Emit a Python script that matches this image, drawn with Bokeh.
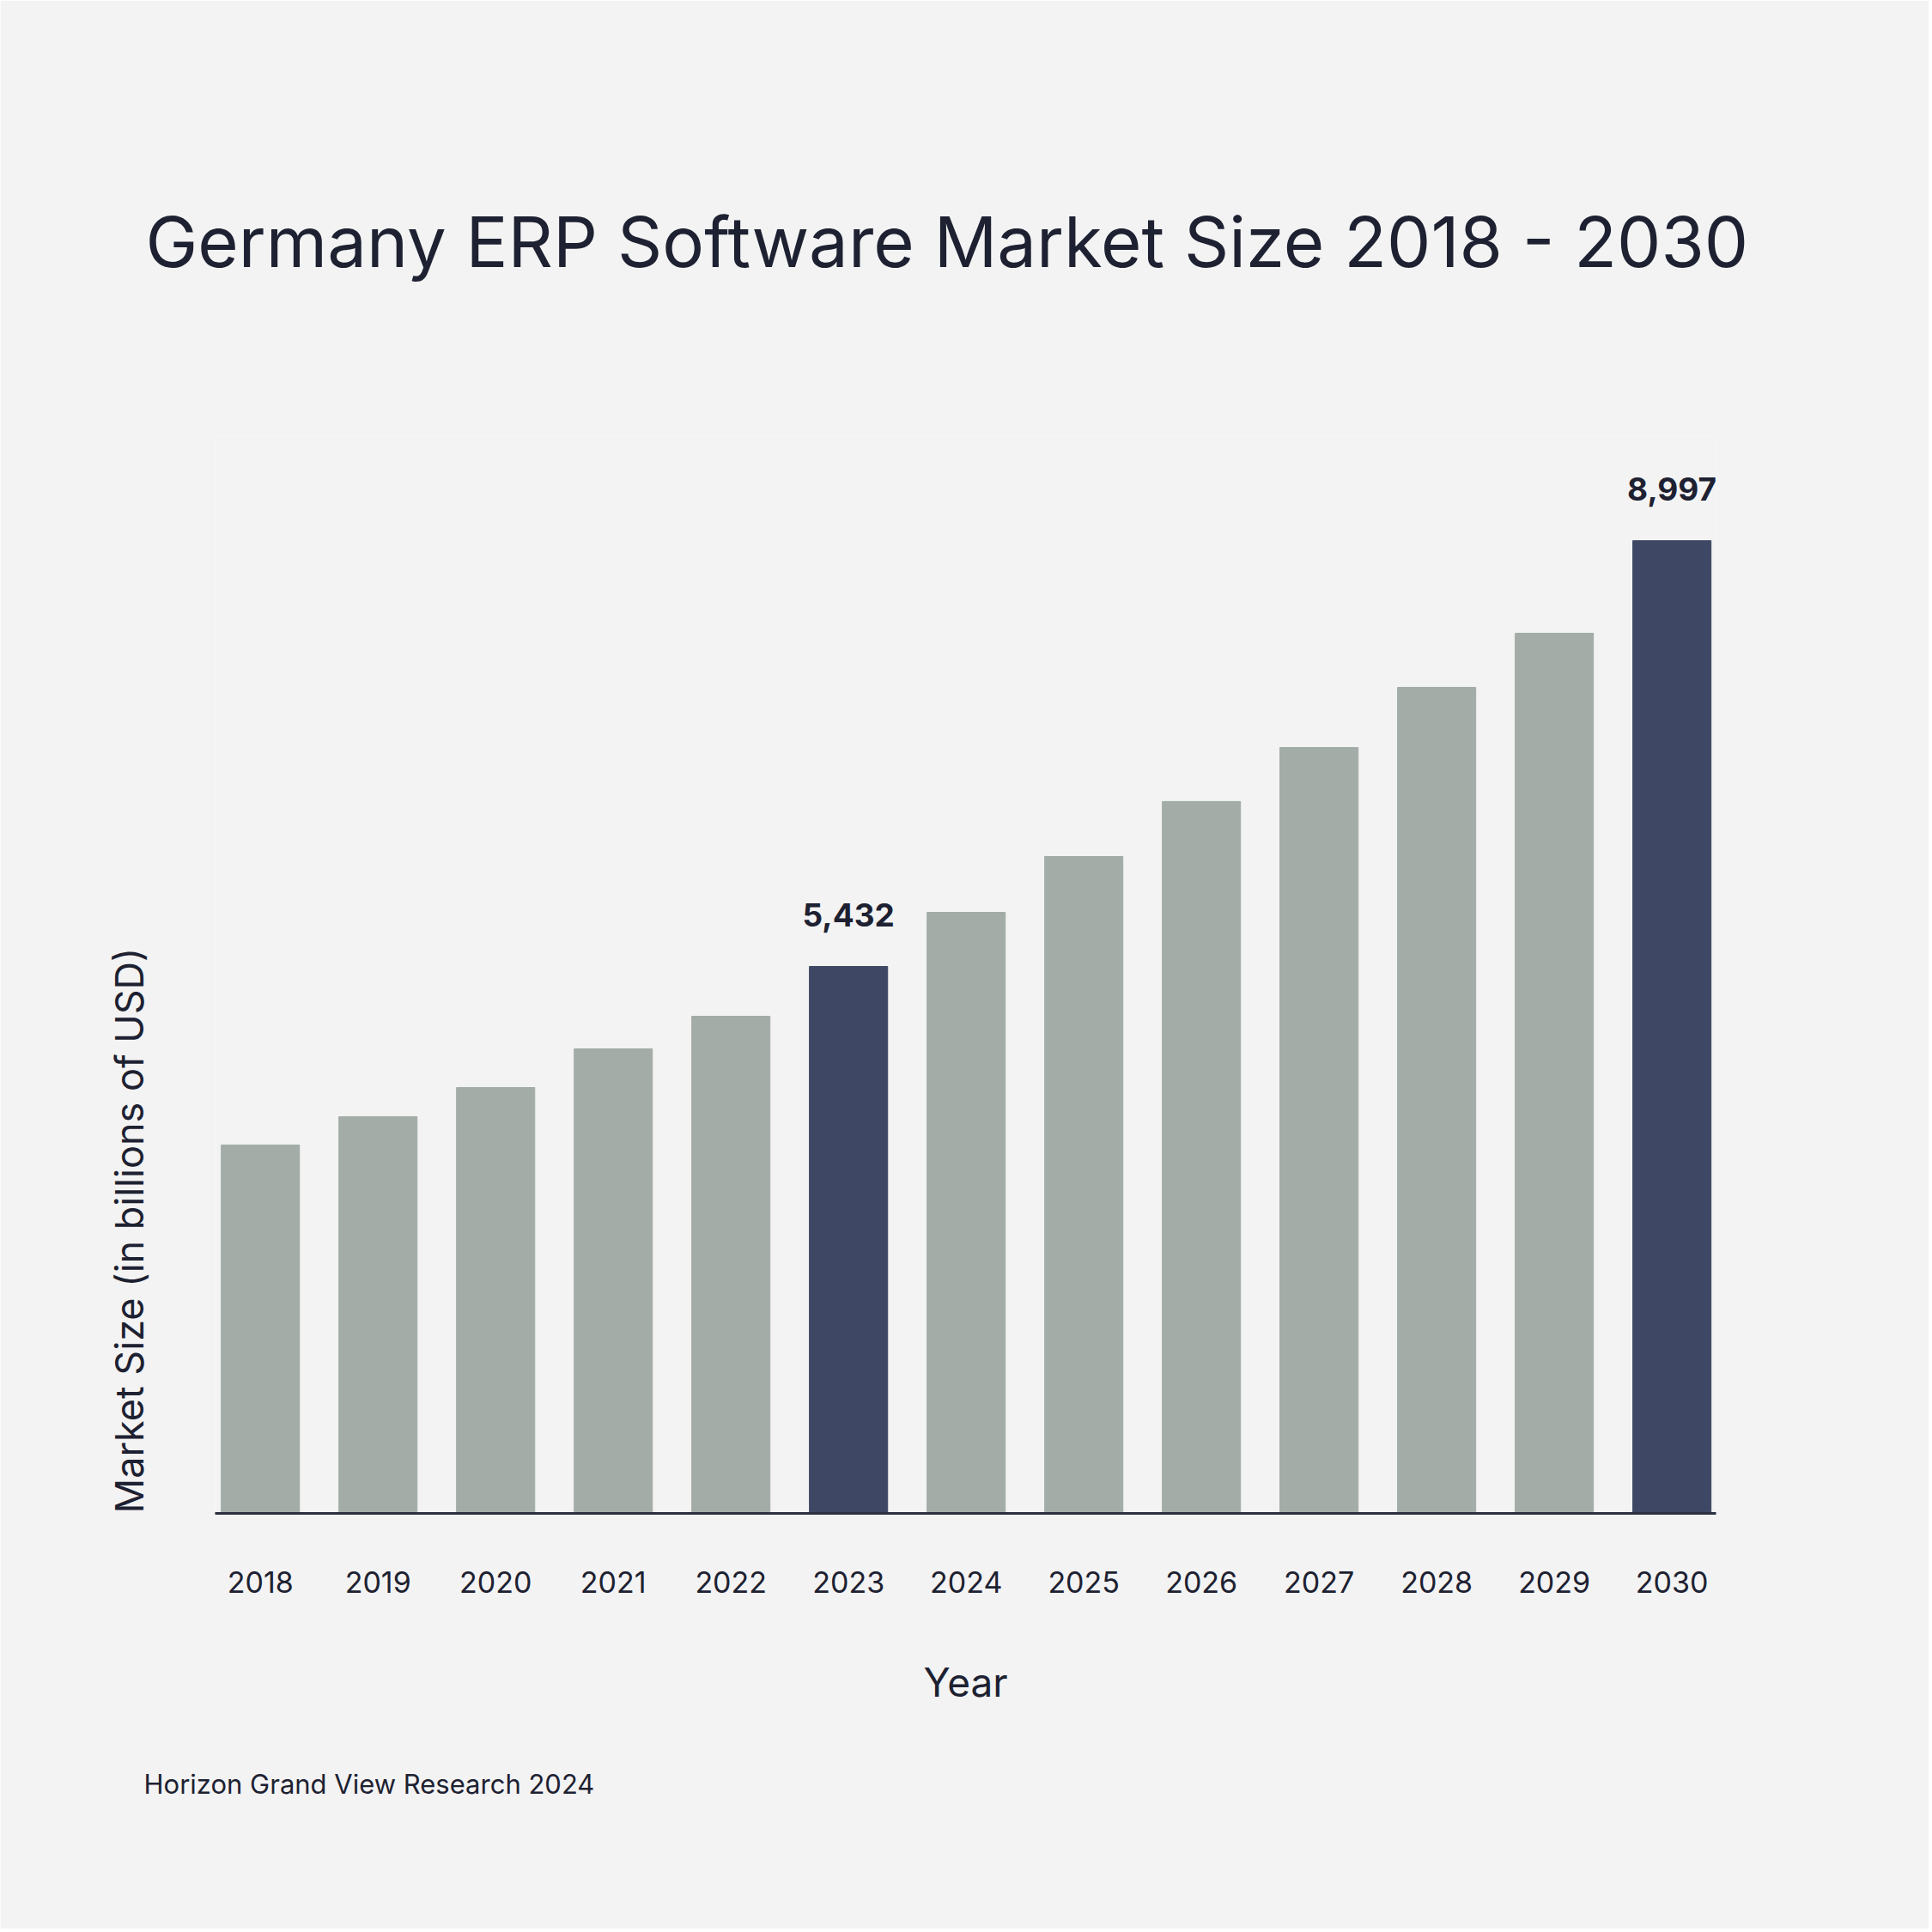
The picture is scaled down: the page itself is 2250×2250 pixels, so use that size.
from bokeh.plotting import figure
from bokeh.models import ColumnDataSource, Range1d, FixedTicker, LabelSet, Title
from bokeh.core.properties import value
from bokeh.embed import file_html
from bokeh.resources import INLINE

# ---- data ----
years = [2018, 2019, 2020, 2021, 2022, 2023, 2024, 2025, 2026, 2027, 2028, 2029, 2030]
market_size = [3937, 4174, 4418, 4742, 5015, 5432, 5885, 6352, 6813, 7265, 7769, 8222, 8997]
highlight_years = [2023, 2030]
tick_labels = [str(y) for y in years]

title_text = "Germany ERP Software Market Size 2018 - 2030"
x_title = "Year"
y_title = "Market Size (in billions of USD)"
source_text = "Horizon Grand View Research 2024"

# ---- styles ----
BG = "#f3f3f3"
GREY = "#a3aca7"
NAVY = "#3e4864"
TEXT = "#1d2131"

colors = [NAVY if y in highlight_years else GREY for y in years]
src = ColumnDataSource(dict(year=years, size=market_size, color=colors))

hl_idx = [years.index(y) for y in highlight_years]
lab_src = ColumnDataSource(dict(
    year=[years[i] for i in hl_idx],
    size=[market_size[i] for i in hl_idx],
    txt=[f"{market_size[i]:,}" for i in hl_idx],
))

W = H = 2246
frame_top = 508
frame_bottom = 1762
frame_h = frame_bottom - frame_top
y0 = 852
p = figure(width=W, height=H, output_backend="svg", toolbar_location=None,
           x_range=Range1d(2017.615, 2030.375),
           y_range=Range1d(y0, y0 + frame_h * 7.19),
           y_axis_location=None,
           min_border_left=250, min_border_right=W - 1998,
           min_border_top=frame_top, min_border_bottom=H - frame_bottom)
p.background_fill_color = BG
p.border_fill_color = BG
p.outline_line_color = None
p.grid.visible = False

p.vbar(x="year", top="size", bottom=0, width=0.665, color="color", source=src)

ax = p.xaxis[0]
ax.ticker = FixedTicker(ticks=years)
ax.major_label_overrides = {y: t for y, t in zip(years, tick_labels)}
ax.axis_line_color = "#2b3040"
ax.axis_line_width = 3
ax.major_tick_line_color = None
ax.minor_tick_line_color = None
ax.major_label_standoff = 61
ax.major_label_text_font = "Inter"
ax.major_label_text_font_size = "34px"
ax.major_label_text_color = TEXT
ax.axis_label = x_title
ax.axis_label_text_font = "Inter"
ax.axis_label_text_font_size = "46px"
ax.axis_label_text_font_style = "normal"
ax.axis_label_text_color = TEXT
ax.axis_label_standoff = 73

p.add_layout(LabelSet(x="year", y="size", text="txt", source=lab_src,
                      y_offset=47, text_align="center", text_baseline="alphabetic",
                      text_font=value("Inter"), text_font_style="bold", text_font_size="37px",
                      text_color=TEXT))

p.title.text = title_text
p.title.align = "left"
p.title.offset = -81
p.title.standoff = 355
p.title.text_font = "Inter"
p.title.text_font_size = "81.5px"
p.title.text_font_style = "normal"
p.title.text_color = TEXT

p.add_layout(Title(text=y_title, align="left", standoff=145, offset=0,
                   text_font="Inter", text_font_size="45px", text_font_style="normal",
                   text_color=TEXT), "left")
p.add_layout(Title(text=source_text, align="left", standoff=135, offset=-83,
                   text_font="Inter", text_font_size="31px", text_font_style="normal",
                   text_color=TEXT), "below")

open("out.html", "w").write(file_html(p, INLINE))
